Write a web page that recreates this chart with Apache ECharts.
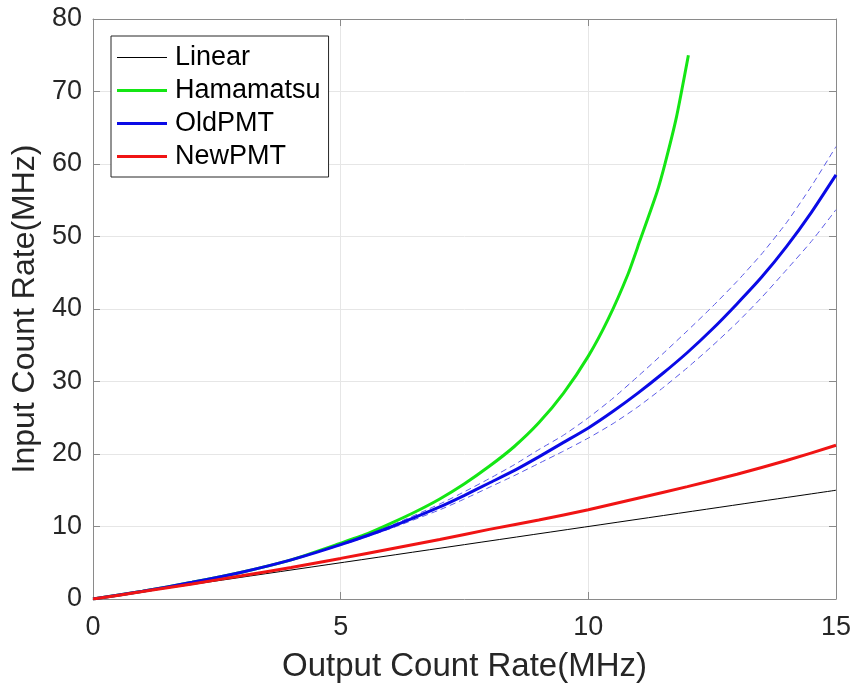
<!DOCTYPE html>
<html>
<head>
<meta charset="utf-8">
<script src="https://cdn.jsdelivr.net/npm/echarts@6/dist/echarts.min.js"></script>
<style>
html,body{margin:0;padding:0;background:#fff;}
#chart{width:859px;height:688px;}
</style>
</head>
<body>
<div id="chart"></div>
<script>
// ---- data ----
var xTicks = [0, 5, 10, 15];
var yTicks = [0, 10, 20, 30, 40, 50, 60, 70, 80];

var linearX = [0, 15];
var linearY = [0, 15];

var hamaX = [0, 1, 2, 3, 4, 5, 5.5, 6, 6.5, 7, 7.5, 8, 8.5, 9, 9.5, 10, 10.4, 10.8, 11.04, 11.38, 11.55, 11.78, 12.02];
var hamaY = [0, 1.07, 2.3, 3.7, 5.4, 7.7, 8.9, 10.4, 12.0, 13.8, 15.9, 18.3, 21.0, 24.3, 28.4, 33.5, 38.6, 44.8, 49.4, 56.0, 60.1, 66.5, 75.0];

var oldX = [0, 1, 2, 3, 4, 5, 6, 7, 7.5, 8, 8.5, 9, 9.5, 10, 10.5, 11, 11.5, 12, 12.5, 13, 13.5, 14, 14.5, 15];
var oldY = [0, 1.07, 2.3, 3.7, 5.4, 7.5, 9.9, 12.7, 14.3, 16.0, 17.7, 19.6, 21.6, 23.6, 25.9, 28.4, 31.1, 34.0, 37.2, 40.7, 44.4, 48.6, 53.3, 58.5];
var oldUpperY = [0, 1.07, 2.3, 3.7, 5.4, 7.6, 10.1, 13.1, 14.8, 16.6, 18.5, 20.6, 22.6, 25.0, 27.7, 30.7, 33.8, 37.0, 40.3, 43.8, 47.6, 51.9, 56.9, 62.4];
var oldLowerY = [0, 1.07, 2.3, 3.7, 5.4, 7.4, 9.7, 12.3, 13.8, 15.4, 17.0, 18.7, 20.4, 22.2, 24.2, 26.5, 29.1, 31.9, 34.9, 38.1, 41.6, 45.4, 49.3, 53.7];

var newX = [0, 1, 2, 3, 4, 5, 6, 7, 8, 9, 10, 11, 12, 13, 14, 15];
var newY = [0, 1.02, 2.08, 3.2, 4.35, 5.6, 6.9, 8.2, 9.6, 10.9, 12.3, 13.9, 15.5, 17.2, 19.1, 21.2];

var seriesNames = ['Linear', 'Hamamatsu', 'OldPMT', 'NewPMT'];

function pairs(xs, ys) {
  var out = [];
  for (var i = 0; i < xs.length; i++) out.push([xs[i], ys[i]]);
  return out;
}

var FONT = '"Liberation Sans", Arial, Helvetica, sans-serif';
var TXT = '#262626';
var AX = '#8a8a8a';
var THIN = 'path://M0,0h50v1h-50z';
var THICK = 'path://M0,0h50v3h-50z';

var chart = echarts.init(document.getElementById('chart'), null, {renderer: 'canvas'});

function lineSeries(name, xs, ys, color, width, type, z) {
  return {
    name: name,
    type: 'line',
    data: pairs(xs, ys),
    showSymbol: false,
    symbol: 'none',
    smooth: 0.2,
    animation: false,
    silent: true,
    z: z,
    lineStyle: {color: color, width: width, type: type},
    itemStyle: {color: color}
  };
}

var option = {
  backgroundColor: '#ffffff',
  animation: false,
  grid: {left: 93, right: 23, top: 19, bottom: 89, containLabel: false},
  legend: {
    data: seriesNames.map(function (n, i) { return {name: n, icon: i === 0 ? THIN : THICK}; }),
    orient: 'vertical',
    left: 111,
    top: 36,
    padding: [8, 8, 7, 6],
    itemGap: 6,
    itemWidth: 50,
    itemHeight: 14,
    symbolKeepAspect: true,
    borderColor: '#262626',
    borderWidth: 1,
    backgroundColor: '#ffffff',
    textStyle: {fontFamily: FONT, fontSize: 27, lineHeight: 27, color: '#000000', padding: [0, 0, 0, 3]}
  },
  xAxis: [{
    type: 'value', min: 0, max: 15, interval: 5,
    name: 'Output Count Rate(MHz)', nameLocation: 'middle', nameGap: 51,
    nameTextStyle: {fontFamily: FONT, fontSize: 33, color: TXT},
    axisLine: {show: true, onZero: false, lineStyle: {color: AX, width: 1}},
    axisTick: {show: true, inside: true, length: 7, lineStyle: {color: AX}},
    axisLabel: {fontFamily: FONT, fontSize: 27, color: TXT, margin: 15},
    splitLine: {show: true, lineStyle: {color: '#e6e6e6', width: 1}}
  }, {
    type: 'value', min: 0, max: 15, interval: 5, position: 'top',
    axisLine: {show: true, onZero: false, lineStyle: {color: AX, width: 1}},
    axisTick: {show: true, inside: true, length: 7, lineStyle: {color: AX}},
    axisLabel: {show: false},
    splitLine: {show: false}
  }],
  yAxis: [{
    type: 'value', min: 0, max: 80, interval: 10,
    name: 'Input Count Rate(MHz)', nameLocation: 'middle', nameGap: 44,
    nameTextStyle: {fontFamily: FONT, fontSize: 32, color: TXT},
    axisLine: {show: true, onZero: false, lineStyle: {color: AX, width: 1}},
    axisTick: {show: true, inside: true, length: 7, lineStyle: {color: AX}},
    axisLabel: {fontFamily: FONT, fontSize: 27, color: TXT, margin: 11},
    splitLine: {show: true, lineStyle: {color: '#e6e6e6', width: 1}}
  }, {
    type: 'value', min: 0, max: 80, interval: 10, position: 'right',
    axisLine: {show: true, onZero: false, lineStyle: {color: AX, width: 1}},
    axisTick: {show: true, inside: true, length: 7, lineStyle: {color: AX}},
    axisLabel: {show: false},
    splitLine: {show: false}
  }],
  series: [
    lineSeries('OldPMT upper', oldX, oldUpperY, '#5a5ae6', 1, [6, 4], 2),
    lineSeries('OldPMT lower', oldX, oldLowerY, '#5a5ae6', 1, [6, 4], 2),
    lineSeries('Linear', linearX, linearY, '#000000', 1, 'solid', 3),
    lineSeries('Hamamatsu', hamaX, hamaY, '#14e614', 3, 'solid', 4),
    lineSeries('OldPMT', oldX, oldY, '#0a0ae6', 3, 'solid', 5),
    lineSeries('NewPMT', newX, newY, '#f01414', 3, 'solid', 6)
  ]
};
chart.setOption(option);
</script>
</body>
</html>
